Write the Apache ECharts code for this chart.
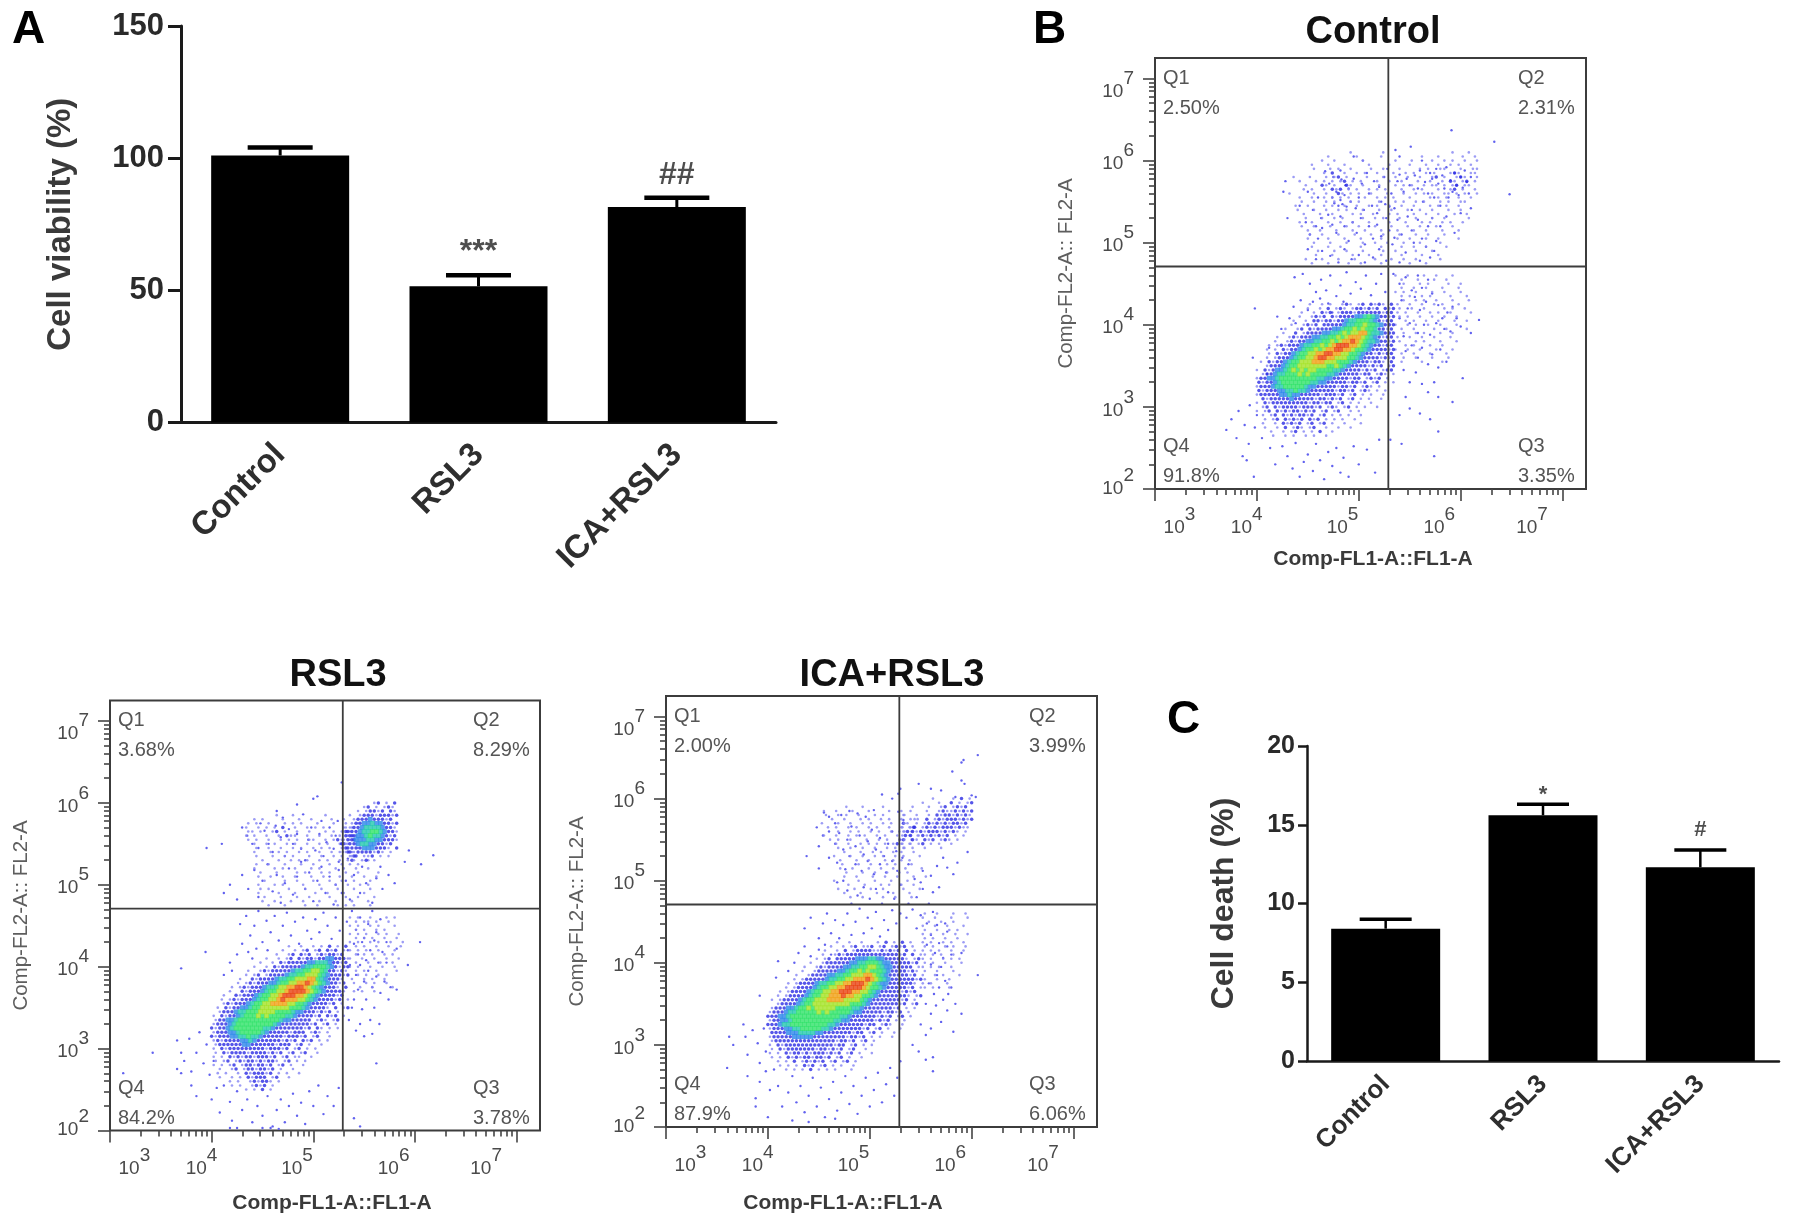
<!DOCTYPE html>
<html><head><meta charset="utf-8">
<style>html,body{margin:0;background:#fff}#c{width:1795px;height:1227px}#c canvas{filter:blur(.7px)}</style>
<script src="https://cdn.jsdelivr.net/npm/echarts@6/dist/echarts.min.js"></script>
</head><body><div id="c"></div>
<script>
const groups=['Control','RSL3','ICA+RSL3'];
const viability=[101,51.5,81.5];
const viabilityTop=[104,55.7,85];
const viabilityMark=['','***','##'];
const viabilityMarkY=[null,64.5,93.6];
const death=[8.4,15.6,12.3];
const deathTop=[9.0,16.3,13.4];
const deathMark=['','*','#'];
const deathMarkY=[null,16.9,14.7];
const decadesX=[3,4,5,6,7];
const decadesY=[2,3,4,5,6,7];
const gateX=5.29, gateY=4.71;
const quadControl=['2.50%','2.31%','3.35%','91.8%'];
const quadRsl3=['3.68%','8.29%','3.78%','84.2%'];
const quadIca=['2.00%','3.99%','6.06%','87.9%'];

// density: one digit per cell, 0 empty .. 8 peak (red)
const coreControl=[
"0000000000000100101001210120212102","0000000000001001020121012212120212","0000000000010010212012221222222122",
"0000000000100121202122223345432212","0000000001001022122122344555432122","0000000010012120222223445565543222",
"0000000100120212222334556565542212","0000001002012222334456566775443222","0000010012122233445565677765432122",
"0000100121223344556567787654432212","0001012122234455656788877654322122","0010102122345565677887765543222212",
"0001021223455667788776655432212122","0010122234556678877666554322221212","0102122345566677766655543222122102",
"0012223455666666655654322221212012","1021233456565665555443222212120122","0122344555656555544322222122012101",
"1223345555555554433222212201212010","2122345555555443322222122120120101","1222344555554332222212212012101000",
"2122233445443222222122120121010100","1222223343322222122212012010100100","0212222232222212212120120101001000",
"1021222222222122122012010100100000","0120212222122212012101201010010000","1012021212212120120120010100000000",
"0101202121221201201010100100000000","0010120212120212010101001000000000","0100102121201201201001000100000000",
"0010010201210120010010010000000000","0001001012010102001000000000000000","0000100101001010010000000000000000"];
const hazeControl=[
"000000000000000010000000100000000000000001000100","000000000010000001000001000000000100010000010010","000000000100100000010000000100010000100101001001",
"000000100010001000001000010000100010010010100100","000000010001010010000100100010000101001100010011","000000000102001001010010001001010010100012100110",
"001000100010120100001000100100100100120100121001","000100010101012010100010010010001001001021012010","000001000210100210010001000101010010110101201100",
"000010100102120101001010100010010100010012010010","010000010010021010100100010001001010100110101001","000100100101010100010010101000100001010100100100",
"000010010010100010100001000101001010001010011000","001001000101001001001010010010010001010100100000","000100010010010100010001001000100100100010010000",
"000010001001000010100100010100010010010001001000","000001000100101000010010100010001000100100000100","000100100010010010001000010001000101001010010000",
"000010010001000100100010001000100100010001000000","000001001000100010010001000100010010001000100000","000000100100010001000100100010001001000100000000",
"000001000010001000100001000100100010010000100000","000000010001000100010010010001000100001000000000","000000100010010000100001000010010010000100000000",
"000000001000100100010000100100001000100000000000","000000010001000010001001000010000100010000000000","000001000100010001000010001001001000001000000000",
"000000100010000100100001000000100010000000000000"];
const rightControl=[
"10010001001000100000","01000100010010000000","00100010100001001000","01001001000100010000","10100100010010001000",
"01010010100001000100","00100101001000100010","10010010010100010000","01001001000010100100","10100100101001000010",
"01010010010010010000","00101001001000100100","10010100100100010000","01001000010010000100","00100101000100100000",
"10010010010001000000","01000101000100010000","00101000100100000000","10010010001000100000","01001000100010000000",
"00100100010001000000","01000010000100000000"];
const coreRsl3=[
"0000000000000000000100100101020102","0000000000000000010010120120212010","0000000000000000100120212012122120",
"0000000000000100101202122122332221","0000000000001001021222223344432212","0000000000100102122222344555432122",
"0000000001001212222234455665422121","0000000010120122223445566654322212","0000000100212222344556667754322210",
"0000001012122233455667787654322120","0000010121222344566778876543222102","0000100212223455667888876543222210",
"0001002122234556678887765432222120","0010121222345566787776654322221201","0001212223455667777665543222212010",
"0102122334556666666555432222102012","0012223445556666555543322212120100","1021223455565655554432222120212010",
"0122334555555555543322222012101200","1222345555555554322222221201201000","2122345555555443222222212021010100",
"1222334555554322222122201210100000","2122233445443222221222120120010000","1212222334322222212120212010100000",
"0122222233222222122201201001000000","1021222222222122212012010100000000","0102122221222212120120120010000000",
"1010212122122212012011001000000000","0101201212212122101201010000000000","1010120122122120120100100000000000",
"0010012012212212010010000000000000","0101001021222120101001000000000000","0010010102122201200100000000000000",
"0000101001212210100000000000000000","0000010100121201000000000000000000","0000000010102010000000000000000000"];
const clusterRsl3=[
"00000000120102","00000120101210","00001012212021","00001222122212","00012223222120","00122334332212","01122344443221",
"12223445543221","02223345443212","12233344332221","21223443322120","12222333222102","01212222121010","00120112010100","00010120100000"];
const hazeRsl3=[
"0000000001000100000001000001000000000000","0001010000100010010000100100000000000000","0010100100010101000100010010010000000000",
"0100101010200100101010000101000000000000","0011010012010010010001010121000000000000","0101001001021100100100101012100000000000",
"0010100100101010011001012101200000000000","0001001010010100100101001210100000000000","0000100100100101001010100120010000000000",
"0001000101010010100100101021000000000000","0000100010010100010010010101200000000000","0000010001001010100101001012000100000000",
"0000100100010001001000100101010000000000","0001000010100100010100010100100100000000","0000010001000010100010100010010000100000",
"0000100100100100010010001001001001000000","0000001000010010001000100100100010000000","0000100010100001000100010010010100000000",
"0000010100001000100010001000100010000000","0000100001000100001001000100001000000000","0000001000100010010000100010010001000000",
"0000010010001001000100010001000100000000","0000000100010000100100001010100010000000"];
const rightRsl3=[
"10100100010100000000","01011010010000000000","10100101000100000000","01010010100000000000","10101001010010000000",
"01010100100100000000","10100101001001000000","01010010010010000000","10101001000100000000","01010100101000000000",
"10010010010010000000","01001001001000000000","10100100100100000000","01010010000100000000","00101001010000000000",
"10010100100000000000","01001010010000000000","00100100001000000000","01010010000000000000"];
const coreIca=[
"00000000000000000100100100010201020100","00000000000000010010120112012012120100","00000000000000100102012222112121202010",
"00000000000001001212222222222222120201","00000000000010120222223334433222221012","00000000001001222222334455543322222120",
"00000000010012122223344556654332222201","00000000100122222334556565554322221210","00000001001222233445566677654322222120",
"00000010122222344556677787654322222212","00000101222234455667788876543322222210","00001012222345566778888765543222221201",
"00010122223455667788877665432222212120","00101222234556677787766554322222221012","01012222345566677776666543222222212010",
"00122223455666666666555432222222120120","01222334556566666555544322222221201010","12223445555565655555433222221221201000",
"22233455555555555544322222212120120100","12233455555555554433222222121201010000","22234455555555544322222212201210010000",
"12223344555554432222222120120100100000","02222333444433222222212201201001000000","12222233333222222221221201010010000000",
"01222222222222222122120120100000000000","10212222222222221220120101000000000000","01021222222212212120120010000000000000",
"10102122121222121201201001000000000000","01010212122122120120100100000000000000","00101020121212012012010000000000000000",
"00010101021201201010010000000000000000","00001010102010101000100000000000000000"];
const clusterIca=[
"000000001000010201","000001000100201012","000100010012012120","001000100121121212","010010010212212121","001100201212221212",
"010010121212122120","101201212122212110","010212122212121010","102012121212010100","010210212012101000","101012010100100000","010100100010000000"];
const hazeIca=[
"00000000100010000100000000000000","00100100010001000010010000000000","00010010100100010100001000000000",
"00001001000101001010010001000000","00100010010010100101002100000000","00010100101001010010010120000000",
"00000010010100101001011210000000","00100100101010010100102101000000","00001010010001001010012010000000",
"00000100100101010101210100000000","00000010010010010010101000000000","00000001000100101001010010000000",
"00000100010010010100101000100000","00000010001001000101010100000000","00000001000100100010100010000000",
"00000010010001001001001000100000","00000000100010010010010100000000","00000001001000100100100010010000",
"00000100000100010001000100000000","00000000100010001010010010000000","00000010001000100100001000100000",
"00000001000100010001000100000000","00000000010010000100100010000000"];
const rightIca=[
"01001000100100","10010001000100","00100100100000","10010010001000","01001001010000","10100100100100","01010010010000","10100101001000",
"01010010100100","10101001001000","01010100100000","10100101010000","01010010001000","10101001000000","01001000100000","10010100010000",
"01001001000000","10100010000000","01010001000000"];

const dotsControl=[[4.71,5.72],[4.74,5.55],[4.76,5.48],[4.78,5.62],[4.8,5.45],[4.82,5.52],[4.84,5.47],[4.86,5.58],[4.88,5.44],[4.9,5.66],[4.92,5.5],[4.75,5.8],[4.83,5.77],[4.87,5.7],[4.95,5.78],[4.97,5.42],[5.0,5.55],[5.03,5.72],[5.05,5.4],[5.08,5.85],[5.1,5.6],[5.13,5.45],[5.15,5.75],[5.18,5.36],[5.2,5.68],[5.22,5.5],[5.25,5.8],[5.26,5.47],[5.28,5.9],[5.3,5.44],[5.32,5.6],[5.35,5.42],[5.38,5.75],[5.4,5.83],[5.44,5.62],[5.47,5.78],[5.5,5.7],[5.52,5.4],[5.55,5.82],[5.58,5.66],[5.6,5.88],[5.63,5.5],[5.65,5.74],[5.68,5.6],[5.7,5.85],[5.72,5.78],[5.74,5.55],[5.76,5.9],[5.78,5.72],[5.8,5.45],[5.82,5.82],[5.84,5.66],[5.86,5.92],[5.88,5.55],[5.9,5.76],[5.92,5.62],[5.94,5.85],[5.96,5.7],[5.98,5.58],[6.0,5.8],[6.02,5.67],[6.04,5.88],[6.06,5.74],[6.08,5.6],[6.1,5.8],
[4.95,6.05],[5.04,6.0],[5.4,6.05],[5.62,6.0],[5.91,6.37],[6.33,6.23],[6.48,5.59],[5.36,6.13],[5.51,6.17],[4.82,5.88],[4.67,5.87],[4.28,5.75],[4.26,5.62],[4.3,5.3],[4.42,5.45],[4.5,5.62],[4.55,5.4],[4.6,5.55],[4.63,5.3],[4.58,5.2],[4.48,5.25],[4.52,5.1],[4.6,5.05],[4.64,5.18],[4.7,5.34],[4.74,5.22],[4.78,5.12],[4.82,5.32],[4.86,5.2],[4.9,5.02],[4.94,5.25],[4.98,5.12],[5.02,5.3],[5.06,4.98],[5.1,5.2],[5.14,5.05],[5.18,5.22],[5.22,5.08],[5.27,5.3],[5.3,5.15],[5.33,4.98],[5.38,5.28],[5.42,5.1],[5.48,5.32],[5.52,5.15],[5.58,5.28],[5.62,5.05],[5.68,5.2],[5.72,5.3],[5.76,5.02],[5.8,5.2],[5.74,4.9],[5.7,4.82],[5.66,4.95],[5.6,4.78],[5.54,5.0],[5.46,4.88],[5.4,4.76],[5.35,5.06],[5.86,5.32],[5.94,5.12],[6.0,5.36],[6.1,5.42],[4.5,4.92],[4.58,4.8],[4.64,4.9],[4.72,4.84],[4.8,4.76],[4.86,4.92],[4.93,4.8],[5.0,4.85],[5.06,4.76],[5.14,4.82],[5.2,4.92],[5.27,4.78],
[4.37,4.58],[4.45,4.62],[4.52,4.5],[4.58,4.4],[4.63,4.55],[4.68,4.42],[4.72,4.6],[4.78,4.35],[4.82,4.48],[4.88,4.64],[4.92,4.38],[4.97,4.52],[5.02,4.44],[5.07,4.6],[5.12,4.36],[5.17,4.5],[5.22,4.62],[5.26,4.4],[4.36,4.22],[4.43,4.3],[4.5,4.18],[4.55,4.28],[4.62,4.32],[4.7,4.26],[4.74,4.15],[4.85,4.28],[4.32,4.08],[4.38,4.02],[4.2,4.1],[4.24,3.95],[3.98,4.2],[3.96,3.6],[4.1,3.4],[4.12,3.72],
[5.34,4.62],[5.4,4.5],[5.46,4.58],[5.52,4.42],[5.58,4.6],[5.62,4.45],[5.68,4.55],[5.42,4.3],[5.48,4.2],[5.55,4.34],[5.6,4.18],[5.66,4.28],[5.72,4.38],[5.78,4.24],[5.82,4.08],[5.87,4.15],[5.92,4.22],[5.96,4.08],[6.0,3.98],[5.9,3.92],[5.84,3.95],[5.76,4.02],[5.7,3.88],[5.64,4.0],[5.58,3.9],[5.5,4.02],[5.44,3.86],[5.4,4.08],[5.46,3.68],[5.52,3.75],[5.58,3.6],[5.62,3.72],[5.68,3.52],[5.72,3.64],[5.78,3.48],[5.8,3.7],[5.86,3.55],[5.44,3.45],[5.5,3.3],[5.56,3.42],[5.62,3.28],[5.68,3.18],[5.74,3.3],[5.78,3.12],[5.46,3.12],[5.5,2.98],[5.4,2.9],[5.6,2.92],[5.7,2.85],[5.92,3.06],[6.02,3.35],[6.18,4.06],[6.1,3.9],[5.74,2.4],[5.78,2.7],[5.42,2.55],[5.31,2.6],
[3.75,2.85],[3.82,2.95],[3.7,2.72],[3.8,2.62],[3.88,2.78],[3.93,3.02],[3.92,2.55],[3.98,2.75],[4.0,2.9],[4.05,2.62],[3.9,2.35],[3.86,2.4],[3.97,2.15],[4.13,2.5],[4.18,2.3],[4.25,2.52],[4.3,2.4],[4.35,2.25],[4.38,2.56],[4.42,2.15],[4.46,2.33],[4.5,2.42],[4.55,2.22],[4.58,2.55],[4.62,2.35],[4.66,2.12],[4.7,2.45],[4.74,2.28],[4.78,2.5],[4.82,2.2],[4.85,2.38],[4.9,2.15],[4.95,2.52],[5.0,2.3],[5.08,2.48],[5.16,2.2],[5.2,2.6]];
const dotsRsl3=[[4.3,5.7],[4.35,5.6],[4.4,5.5],[4.46,5.45],[4.48,5.75],[4.52,5.66],[4.56,5.5],[4.6,5.4],[4.63,5.72],[4.68,5.58],[4.72,5.35],[4.76,5.68],[4.8,5.5],[4.84,5.62],[4.88,5.44],[4.92,5.3],[4.95,5.55],[4.98,5.7],[5.02,5.42],[5.06,5.62],[5.1,5.35],[5.13,5.52],[5.16,5.7],[5.2,5.44],[5.22,5.6],[5.25,5.28],[5.27,5.5],[5.29,5.4],[5.24,5.78],[5.08,5.78],[4.9,5.86],[4.7,5.82],[5.0,6.05],[5.04,6.08],[4.84,5.98],[4.64,5.9],[5.28,6.25],[3.95,5.45],[4.1,5.5],
[4.12,4.9],[4.18,5.0],[4.25,4.82],[4.3,5.12],[4.36,4.95],[4.42,5.18],[4.46,4.85],[4.5,5.05],[4.55,5.25],[4.6,4.92],[4.64,5.12],[4.68,4.78],[4.72,5.02],[4.76,5.2],[4.8,4.88],[4.84,5.1],[4.88,5.28],[4.92,4.95],[4.96,5.15],[5.0,4.8],[5.04,5.05],[5.08,5.22],[5.12,4.9],[5.16,5.1],[5.2,4.76],[5.22,5.0],[5.25,5.18],[5.28,4.9],[5.32,5.05],[5.36,4.82],[5.4,5.12],[5.46,4.9],[5.52,5.02],[5.58,4.78],[5.62,5.08],[5.68,4.95],[5.74,5.12],[5.8,5.02],[5.9,5.28],[6.06,5.25],[6.18,5.36],[5.94,5.42],[5.66,5.22],[5.48,5.22],[5.34,5.32],
[4.28,4.52],[4.34,4.62],[4.38,4.38],[4.42,4.5],[4.46,4.68],[4.5,4.3],[4.54,4.56],[4.58,4.42],[4.62,4.62],[4.66,4.32],[4.7,4.5],[4.74,4.66],[4.78,4.38],[4.82,4.55],[4.86,4.28],[4.9,4.6],[4.94,4.44],[4.98,4.34],[5.02,4.58],[5.06,4.42],[5.1,4.66],[5.14,4.5],[5.18,4.34],[5.22,4.6],[5.26,4.44],[4.3,4.28],[4.25,4.15],[4.18,4.05],[4.36,4.18],[4.44,4.22],[4.55,4.2],[4.2,3.95],[4.12,3.9],[3.94,4.18],[3.7,3.98],[4.4,4.1],
[5.33,4.55],[5.38,4.68],[5.42,4.45],[5.46,4.6],[5.5,4.35],[5.54,4.52],[5.58,4.68],[5.62,4.42],[5.66,4.58],[5.4,4.28],[5.44,4.15],[5.48,4.3],[5.52,4.08],[5.56,4.2],[5.6,4.32],[5.64,4.05],[5.68,4.18],[5.72,4.3],[5.34,4.2],[5.36,4.02],[5.42,3.9],[5.46,4.02],[5.5,3.82],[5.54,3.95],[5.58,3.75],[5.62,3.88],[5.66,3.68],[5.7,3.82],[5.74,3.6],[5.76,3.75],[5.82,3.72],[5.4,3.6],[5.44,3.72],[5.48,3.48],[5.52,3.6],[5.56,3.35],[5.6,3.5],[5.65,3.3],[5.35,3.35],[5.38,3.5],[5.42,3.22],[5.46,3.3],[5.5,3.15],[5.58,3.18],[5.62,2.82],[5.72,4.05],[5.93,4.02],[6.05,4.3],[5.82,4.22],[5.4,2.15],[5.46,2.05],
[3.66,3.1],[3.7,2.95],[3.73,2.85],[3.78,3.12],[3.8,2.72],[3.85,2.95],[3.88,3.2],[3.92,2.82],[3.95,3.05],[3.98,2.68],[3.66,2.75],[3.7,2.7],[3.42,2.95],[3.13,2.7],[4.02,2.85],[3.85,2.42],[3.8,2.55],[4.0,2.38],[4.05,2.52],[4.08,2.22],[4.12,2.55],[4.18,2.35],[4.2,2.12],[4.25,2.48],[4.3,2.25],[4.35,2.38],[4.4,2.1],[4.45,2.3],[4.5,2.18],[4.55,2.42],[4.6,2.05],[4.64,2.25],[4.68,2.38],[4.72,2.1],[4.76,2.3],[4.8,2.45],[4.84,2.18],[4.88,2.34],[4.92,2.08],[4.96,2.48],[5.0,2.3],[5.05,2.55],[5.1,2.2],[5.14,2.42],[5.2,2.3],[5.25,2.52],[4.18,2.03],[4.25,2.03],[4.5,2.03],[4.58,2.03],[4.66,2.02]];
const dotsIca=[[6.06,6.53],[5.92,6.47],[5.9,6.44],[5.81,6.33],[5.9,6.22],[5.93,6.18],[6.0,6.04],[6.04,6.02],[5.3,6.12],[5.28,6.06],[5.22,6.0],[5.12,6.05],[5.48,6.18],[5.6,6.12],[5.7,6.1],[5.84,6.02],[4.48,5.65],[4.55,5.83],[4.6,5.78],[4.66,5.7],[4.72,5.8],[4.8,5.85],[4.88,5.82],[4.96,5.78],[5.04,5.86],[4.5,5.42],[4.54,5.55],[4.6,5.6],[4.66,5.45],[4.7,5.58],[4.74,5.38],[4.78,5.5],[4.82,5.66],[4.86,5.42],[4.9,5.55],[4.94,5.32],[4.98,5.48],[5.02,5.62],[5.06,5.38],[5.1,5.52],[5.14,5.3],[5.18,5.45],[5.22,5.6],[5.26,5.36],[5.3,5.5],[5.33,5.74],[5.28,5.84],[4.38,5.3],[4.5,5.15],[4.6,5.28],[4.68,5.22],[4.76,5.14],[4.8,5.3],[4.86,5.2],[4.92,5.12],[4.98,5.24],[5.04,5.08],[5.1,5.2],[5.16,5.1],[5.22,5.24],[5.27,5.12],[5.32,5.28],[5.38,5.2],[5.44,5.02],[5.52,5.12],[5.6,5.06],[5.66,5.18],[5.72,5.28],[5.76,5.16],[5.82,5.08],[5.86,5.22],[5.96,5.35],[5.5,4.98],
[4.68,4.98],[4.74,5.0],[4.78,4.88],[4.82,4.72],[4.88,4.82],[4.94,4.92],[5.0,4.78],[5.06,4.9],[5.12,4.72],[5.18,4.86],[5.24,4.78],[5.3,4.95],[5.38,4.72],[5.46,4.8],[5.52,4.9],[5.62,4.86],[5.68,4.92],[5.58,4.72],
[4.36,4.42],[4.42,4.55],[4.5,4.3],[4.54,4.48],[4.58,4.6],[4.62,4.36],[4.66,4.52],[4.7,4.3],[4.74,4.46],[4.78,4.6],[4.82,4.34],[4.86,4.5],[4.9,4.66],[4.94,4.36],[4.98,4.55],[5.02,4.42],[5.06,4.62],[5.1,4.32],[5.14,4.52],[5.18,4.4],[5.22,4.64],[5.26,4.48],[5.3,4.6],[4.3,4.12],[4.26,4.0],[4.36,4.2],[4.42,4.08],[4.5,4.16],[4.56,4.22],[4.62,4.1],[4.2,3.9],[4.08,3.82],[3.92,3.6],[4.1,4.02],
[5.36,4.55],[5.42,4.65],[5.46,4.42],[5.5,4.58],[5.56,4.48],[5.62,4.62],[5.66,4.46],[5.74,4.48],[5.76,4.38],[5.56,4.22],[5.6,4.34],[5.64,4.12],[5.68,4.24],[5.72,4.06],[5.76,4.2],[5.8,4.1],[5.6,3.98],[5.66,3.85],[5.7,3.95],[5.74,3.78],[5.8,3.7],[5.58,3.75],[5.63,3.62],[5.68,3.7],[5.72,3.55],[5.77,3.62],[5.84,3.5],[5.55,3.5],[5.6,3.38],[5.65,3.48],[5.7,3.28],[5.76,3.42],[5.5,3.25],[5.55,3.12],[5.6,3.2],[5.42,3.0],[5.48,2.92],[5.55,2.82],[5.62,2.85],[5.62,2.68],[6.06,3.85],[5.82,3.16],[5.9,4.12],[5.9,3.38],
[3.62,3.1],[3.66,3.0],[3.76,3.25],[3.78,3.1],[3.8,2.88],[3.85,3.18],[3.9,3.02],[3.92,2.78],[3.96,3.2],[3.98,2.92],[3.6,2.72],[3.92,2.55],[3.8,2.62],[3.98,2.68],[4.02,2.45],[4.06,2.7],[4.1,2.5],[4.14,2.25],[4.2,2.42],[4.24,2.62],[4.28,2.3],[4.32,2.5],[4.36,2.18],[4.4,2.38],[4.44,2.6],[4.48,2.25],[4.52,2.48],[4.56,2.12],[4.6,2.34],[4.64,2.55],[4.68,2.2],[4.72,2.42],[4.76,2.62],[4.8,2.28],[4.84,2.5],[4.88,2.16],[4.92,2.38],[4.96,2.6],[5.0,2.25],[5.04,2.45],[5.08,2.66],[5.12,2.3],[5.16,2.52],[5.2,2.72],[5.24,2.38],[5.27,2.6],[5.3,2.8],[3.88,2.25],[3.88,2.35],[4.0,2.12],[4.24,2.08],[4.4,2.06],[4.66,2.1]];

const FONT='"Liberation Sans",Arial,sans-serif';
const LEVEL_COLOR=['','#8383f3','#2a2ae4','#2a86ea','#22c8ae','#2ee268','#a4e224','#f0a014','#e8400e'];
const LEVEL_SIZE=[0,2.6,3.5,4.8,4.8,4.8,4.8,4.8,4.8];
const CELL_X=.04, CELL_Y=.05;
function cells(rows,x0,yTop){
  const out=[];
  rows.forEach((row,r)=>{for(let c=0;c<row.length;c++){const l=+row[c];if(l)out.push([x0+(c+(r%2)/2)*CELL_X,yTop-r*CELL_Y,l]);}});
  return out.sort((a,b)=>a[2]-b[2]);
}
function log10Ticks(kList,dStart,limit){
  const t=[];
  for(let d=dStart;d<=7;d++)kList.forEach(k=>{const v=d+Math.log10(k);if(v<=limit)t.push(v);});
  return t;
}
const MINOR=[2,3,4,5,6,7,8,9];
const xLabelPlace=[3.24,3.9,4.84,5.79,6.7];
const yLabelPlace=[2.1,3.05,4.05,5.05,6.05,6.93];
const EXP_RICH={b:{fontFamily:FONT,fontSize:19,color:'#4a4a4a',padding:[15,0,0,0]},s:{fontFamily:FONT,fontSize:19,color:'#4a4a4a',padding:[0,0,11,0]}};
const expFmt=v=>`{b|10}{s|${Math.round(v)}}`;

const grids=[],xAxes=[],yAxes=[],series=[],graphic=[];

function barPanel(box,vals,tops,marks,markY,yMax,yStep,yName,o){
  const g=grids.length;
  grids.push({left:box.x,top:box.y,width:box.w,height:box.h});
  const lineStyle={color:'#1a1a1a',width:o.line};
  xAxes.push({gridIndex:g,type:'category',data:groups,axisLine:{lineStyle,onZero:false},
    axisTick:{alignWithLabel:true,length:o.tick,lineStyle},
    axisLabel:{interval:0,rotate:45,margin:o.catMargin,fontFamily:FONT,fontWeight:'bold',fontSize:o.catFont,color:'#2e2e2e'}});
  yAxes.push({gridIndex:g,type:'value',min:0,max:yMax,interval:yStep,splitLine:{show:false},
    axisLine:{show:true,lineStyle},axisTick:{show:true,length:o.ytick,lineStyle},
    axisLabel:{margin:o.yMargin,padding:[o.yShift,0,0,0],fontFamily:FONT,fontWeight:'bold',fontSize:o.yFont,color:'#2a2a2a'},
    name:yName,nameLocation:'middle',nameRotate:90,nameGap:o.nameGap,
    nameTextStyle:{fontFamily:FONT,fontWeight:'bold',fontSize:o.nameFont,color:'#3a3a3a'}});
  series.push({type:'bar',xAxisIndex:g,yAxisIndex:g,data:vals,barWidth:o.bar,itemStyle:{color:'#000'},silent:true});
  series.push({type:'custom',xAxisIndex:g,yAxisIndex:g,silent:true,z:1,
    data:tops.map((t,i)=>[i,t,vals[i]]),encode:{x:0,y:1},
    renderItem(p,api){
      const a=api.coord([api.value(0),api.value(1)]),b=api.coord([api.value(0),api.value(2)]);
      return {type:'group',children:[
        {type:'line',shape:{x1:a[0],y1:a[1],x2:b[0],y2:b[1]},style:{stroke:'#000',lineWidth:o.errW}},
        {type:'line',shape:{x1:a[0]-o.cap/2,y1:a[1],x2:a[0]+o.cap/2,y2:a[1]},style:{stroke:'#000',lineWidth:o.capW}}]};
    }});
  series.push({type:'scatter',xAxisIndex:g,yAxisIndex:g,symbolSize:0,silent:true,
    data:marks.map((m,i)=>({value:[i,markY[i]],mark:m})).filter(d=>d.mark),
    label:{show:true,position:'inside',formatter:p=>p.data.mark,fontFamily:FONT,fontWeight:'bold',fontSize:o.markFont,color:'#222'}});
}

function flowPanel(box,title,quads,dots,matrices){
  const g=grids.length;
  grids.push({left:box.x,top:box.y,width:box.s,height:box.s,show:true,borderColor:'#3c3c3c',borderWidth:2,backgroundColor:'transparent'});
  const X=[3,7.23],Y=[2,7.25];
  const tickStyle={color:'#444',width:1.6};
  const xi=xAxes.length,yi=yAxes.length;
  const baseX={gridIndex:g,type:'value',position:'bottom',min:X[0],max:X[1],splitLine:{show:false},axisLine:{show:false}};
  const baseY={gridIndex:g,type:'value',position:'left',min:Y[0],max:Y[1],splitLine:{show:false},axisLine:{show:false}};
  xAxes.push({...baseX,axisLabel:{show:false},axisTick:{show:true,length:12,lineStyle:tickStyle,customValues:decadesX}});
  xAxes.push({...baseX,axisLabel:{show:false},axisTick:{show:true,length:6,lineStyle:tickStyle,customValues:log10Ticks(MINOR,3,X[1])}});
  xAxes.push({...baseX,axisTick:{show:false},axisLabel:{show:true,margin:14,formatter:expFmt,rich:EXP_RICH,customValues:xLabelPlace,showMinLabel:true,showMaxLabel:true}});
  yAxes.push({...baseY,axisLabel:{show:false},axisTick:{show:true,length:12,lineStyle:tickStyle,customValues:decadesY},
    name:'Comp-FL2-A:: FL2-A',nameLocation:'middle',nameRotate:90,nameGap:78,nameTextStyle:{fontFamily:FONT,fontSize:20.5,color:'#5e5e5e'}});
  yAxes.push({...baseY,axisLabel:{show:false},axisTick:{show:true,length:6,lineStyle:tickStyle,customValues:log10Ticks(MINOR,2,Y[1])}});
  yAxes.push({...baseY,axisTick:{show:false},axisLabel:{show:true,margin:21,formatter:expFmt,rich:EXP_RICH,customValues:yLabelPlace,showMinLabel:true,showMaxLabel:true}});
  const on={xAxisIndex:xi,yAxisIndex:yi,silent:true};
  series.push({...on,type:'scatter',symbol:'circle',symbolSize:2.4,itemStyle:{color:'#5a5aee',opacity:.95},data:dots,z:2});
  matrices.forEach(m=>series.push({...on,type:'scatter',z:3,data:cells(m.rows,m.x0,m.top),
    symbol:(v)=>v[2]>=3?'rect':'circle',symbolSize:(v)=>LEVEL_SIZE[v[2]],
    itemStyle:{color:p=>LEVEL_COLOR[p.value[2]]}}));
  const gate={...on,type:'line',z:5,showSymbol:false,lineStyle:{color:'#3c3c3c',width:1.8}};
  series.push({...gate,data:[[gateX,Y[0]],[gateX,Y[1]]]});
  series.push({...gate,data:[[X[0],gateY],[X[1],gateY]]});
  const qText=(t,dx,dy)=>graphic.push({type:'text',z:10,style:{text:t,x:box.x+dx,y:box.y+dy,font:`20px ${FONT}`,fill:'#555',textVerticalAlign:'middle'}});
  qText('Q1',8,20);qText(quads[0],8,50);
  qText('Q2',363,20);qText(quads[1],363,50);
  qText('Q3',363,388);qText(quads[2],363,418);
  qText('Q4',8,388);qText(quads[3],8,418);
  graphic.push({type:'text',z:10,style:{text:title,x:box.tx,y:box.ty,font:`bold 38px ${FONT}`,fill:'#111',textAlign:'center',textVerticalAlign:'middle'}});
  graphic.push({type:'text',z:10,style:{text:'Comp-FL1-A::FL1-A',x:box.nx,y:box.ny,font:`bold 21px ${FONT}`,fill:'#3a3a3a',textAlign:'center',textVerticalAlign:'middle'}});
}

barPanel({x:181,y:26,w:595,h:396.5},viability,viabilityTop,viabilityMark,viabilityMarkY,150,50,'Cell viability (%)',
  {line:3,tick:13,ytick:13,catMargin:27,catFont:33,yMargin:17,yShift:8,yFont:31,nameGap:104,nameFont:33,bar:138,errW:3,cap:65,capW:4.5,markFont:32});
barPanel({x:1307,y:746,w:472,h:315},death,deathTop,deathMark,deathMarkY,20,5,'Cell death (%)',
  {line:2.5,tick:10,ytick:9,catMargin:19,catFont:26,yMargin:12,yShift:3,yFont:25,nameGap:67,nameFont:32,bar:109,errW:2.5,cap:52,capW:3.5,markFont:22});

flowPanel({x:1155,y:58,s:431,tx:1373,ty:33,nx:1373,ny:559},'Control',quadControl,dotsControl,
  [{rows:hazeControl,x0:4.28,top:6.1},{rows:rightControl,x0:5.36,top:4.6},{rows:coreControl,x0:4.0,top:4.25}]);
flowPanel({x:110,y:700.5,s:430,tx:338,ty:676,nx:332,ny:1203},'RSL3',quadRsl3,dotsRsl3,
  [{rows:hazeRsl3,x0:4.28,top:5.85},{rows:rightRsl3,x0:5.36,top:4.6},{rows:coreRsl3,x0:4.0,top:4.25},{rows:clusterRsl3,x0:5.28,top:6.0}]);
flowPanel({x:666,y:696,s:431,tx:892,ty:676,nx:843,ny:1203},'ICA+RSL3',quadIca,dotsIca,
  [{rows:hazeIca,x0:4.45,top:5.9},{rows:rightIca,x0:5.5,top:4.6},{rows:coreIca,x0:4.0,top:4.25},{rows:clusterIca,x0:5.3,top:6.0}]);

[['A',12,30],['B',1033,30],['C',1167,720]].forEach(([t,x,y])=>graphic.push({type:'text',z:10,
  style:{text:t,x,y,font:`bold 46px ${FONT}`,fill:'#000',textVerticalAlign:'middle'}}));

const chart=echarts.init(document.getElementById('c'),null,{renderer:'canvas'});
chart.setOption({animation:false,backgroundColor:'#fff',grid:grids,xAxis:xAxes,yAxis:yAxes,series,graphic,tooltip:{show:false}});
</script></body></html>
